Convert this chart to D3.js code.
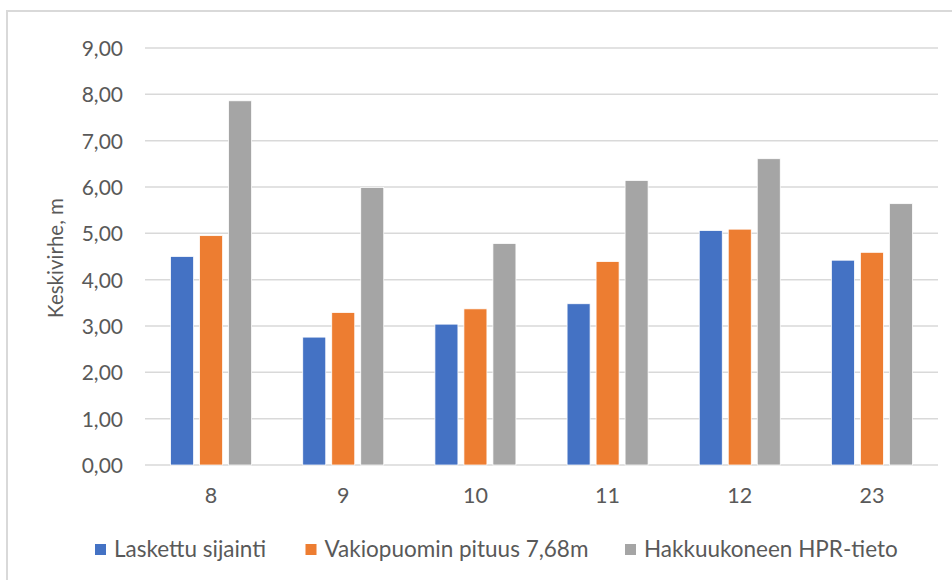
<!DOCTYPE html>
<html>
<head>
<meta charset="utf-8">
<script src="https://cdn.jsdelivr.net/npm/d3@7"></script>
<style>
  body { margin: 0; background: #fff; }
  svg text { font-family: Lato, "Open Sans", sans-serif; fill: #595959; }
</style>
</head>
<body>
<div id="chart"></div>
<script>
// data
const categories = ["8", "9", "10", "11", "12", "23"];
const seriesNames = ["Laskettu sijainti", "Vakiopuomin pituus 7,68m", "Hakkuukoneen HPR-tieto"];
const laskettu = [4.50, 2.76, 3.04, 3.48, 5.06, 4.42];
const vakiopuomi = [4.95, 3.29, 3.37, 4.39, 5.09, 4.59];
const hakkuukone = [7.86, 5.99, 4.78, 6.14, 6.61, 5.64];
const yTicks = [0, 1, 2, 3, 4, 5, 6, 7, 8, 9];
const yTitle = "Keskivirhe, m";

const colors = ["#4472C4", "#ED7D31", "#A5A5A5"];
const seriesValues = [laskettu, vakiopuomi, hakkuukone];

const width = 952, height = 580;
const plot = {left: 145, right: 938, top: 48, bottom: 465};

const svg = d3.select("#chart")
    .append("svg")
    .attr("width", width)
    .attr("height", height);

// chart border
svg.append("rect")
    .attr("x", 7).attr("y", 11)
    .attr("width", width).attr("height", height)
    .attr("fill", "none")
    .attr("stroke", "#d9d9d9")
    .attr("stroke-width", 2);

const x0 = d3.scaleBand()
    .domain(categories)
    .range([plot.left, plot.right])
    .padding(0);

const groupW = 81;
const x1 = d3.scaleBand()
    .domain(d3.range(seriesNames.length))
    .range([(x0.bandwidth() - groupW) / 2, (x0.bandwidth() + groupW) / 2])
    .paddingInner(0.207)
    .paddingOuter(0);

const y = d3.scaleLinear()
    .domain([0, 9])
    .range([plot.bottom, plot.top]);

// gridlines
svg.append("g")
    .selectAll("line")
    .data(yTicks)
    .enter().append("line")
    .attr("x1", plot.left)
    .attr("x2", plot.right)
    .attr("y1", d => y(d))
    .attr("y2", d => y(d))
    .attr("stroke", "#d9d9d9")
    .attr("stroke-width", 1.5);

// y axis labels
const yAxis = svg.append("g")
    .attr("transform", `translate(${plot.left - 22},0)`)
    .call(d3.axisLeft(y).tickValues(yTicks).tickSize(0).tickPadding(0)
        .tickFormat(d => d3.format(".2f")(d).replace(".", ",")));
yAxis.select(".domain").remove();
yAxis.selectAll("text")
    .attr("font-size", 21)
    .attr("dy", "0.36em");

// x axis labels
const xAxis = svg.append("g")
    .attr("transform", `translate(0,${plot.bottom})`)
    .call(d3.axisBottom(x0).tickSize(0).tickPadding(0));
xAxis.select(".domain").remove();
xAxis.selectAll("text")
    .attr("font-size", 21.5)
    .attr("dy", null)
    .attr("y", 38);

// bars
const groups = svg.append("g")
    .selectAll("g")
    .data(categories)
    .enter().append("g")
    .attr("transform", d => `translate(${x0(d)},0)`);

groups.selectAll("rect")
    .data((d, i) => seriesValues.map((vals, s) => ({s: s, v: vals[i]})))
    .enter().append("rect")
    .attr("x", d => x1(d.s))
    .attr("y", d => y(d.v))
    .attr("width", x1.bandwidth())
    .attr("height", d => y(0) - y(d.v))
    .attr("fill", d => colors[d.s])
    .attr("stroke", "#fff")
    .attr("stroke-width", 0.75);

// y title
svg.append("text")
    .attr("transform", "translate(63,258) rotate(-90)")
    .attr("text-anchor", "middle")
    .attr("font-size", 20.5)
    .text(yTitle);

// legend
const legendX = [95, 305.5, 625];
const legend = svg.append("g")
    .selectAll("g")
    .data(seriesNames)
    .enter().append("g")
    .attr("transform", (d, i) => `translate(${legendX[i]},544)`);

legend.append("rect")
    .attr("width", 11)
    .attr("height", 11)
    .attr("fill", (d, i) => colors[i]);

legend.append("text")
    .attr("x", 19)
    .attr("y", 12.5)
    .attr("font-size", 22.5)
    .text(d => d);
</script>
</body>
</html>
